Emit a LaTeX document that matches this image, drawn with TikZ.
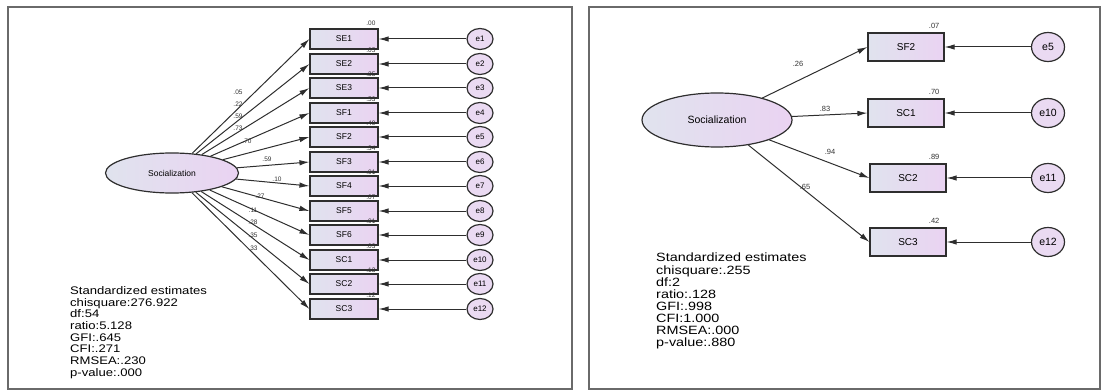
\documentclass[tikz,border=0pt]{standalone}
\usepackage{fontspec}
\setmainfont{Liberation Sans}
\usetikzlibrary{shapes.geometric,arrows.meta}
\definecolor{shadeL}{HTML}{E0E3EE}
\definecolor{shadeR}{HTML}{EAD3F2}
\definecolor{errfill}{HTML}{EADAF2}
\definecolor{edge}{HTML}{2E2E2E}
\definecolor{framegray}{HTML}{6A6A6A}
\newcommand{\statsA}{\fontsize{11}{11.7}\selectfont}
\newcommand{\statsB}{\fontsize{12}{11.6}\selectfont}
\tikzset{
  obs/.style={draw=edge, line width=1.2pt, rectangle, left color=shadeL, right color=shadeR,
    inner sep=0pt, minimum width=68pt, minimum height=20pt, font=\fontsize{8.5}{9}\selectfont},
  obsB/.style={obs, minimum width=76pt, minimum height=28pt, font=\fontsize{10}{11}\selectfont},
  latent/.style={draw=edge, line width=1.2pt, ellipse, left color=shadeL, right color=shadeR, inner sep=0pt},
  err/.style={draw=edge, line width=1.2pt, ellipse, fill=errfill, inner sep=0pt,
    minimum width=26pt, minimum height=21pt, font=\fontsize{8}{9}\selectfont},
  errB/.style={err, minimum width=33pt, minimum height=29pt, font=\fontsize{10.5}{11}\selectfont},
  load/.style={draw=edge, line width=1pt, -{Latex[length=10pt,width=5.5pt]}},
  coef/.style={font=\fontsize{6.5}{7}\selectfont, inner sep=0pt, text=black!80},
  coefB/.style={coef, font=\fontsize{7.5}{8}\selectfont},
  stats/.style={anchor=north west, inner sep=0pt},
}
\begin{document}
\begin{tikzpicture}[x=1pt, y=-1pt]
\useasboundingbox (0,0) rectangle (1107,390);
% panel frames
\draw[framegray, line width=2.2pt] (8,7) rectangle (572,389);
\draw[framegray, line width=2.2pt] (589,7) rectangle (1100,389);

% ---- full model, left panel
\node[latent, minimum width=133pt, minimum height=40pt, font=\fontsize{8.5}{9}\selectfont] (socA) at (172,173) {Socialization};
\node[obs] (SE1) at (344,39) {SE1};   \node[err] (e1) at (480,39) {e1};
\node[obs] (SE2) at (344,64) {SE2};   \node[err] (e2) at (480,64) {e2};
\node[obs] (SE3) at (344,88) {SE3};   \node[err] (e3) at (480,88) {e3};
\node[obs] (SF1) at (344,113) {SF1};  \node[err] (e4) at (480,113) {e4};
\node[obs] (SF2) at (344,137) {SF2};  \node[err] (e5) at (480,137) {e5};
\node[obs] (SF3) at (344,162) {SF3};  \node[err] (e6) at (480,162) {e6};
\node[obs] (SF4) at (344,186) {SF4};  \node[err] (e7) at (480,186) {e7};
\node[obs] (SF5) at (344,211) {SF5};  \node[err] (e8) at (480,211) {e8};
\node[obs] (SF6) at (344,235) {SF6};  \node[err] (e9) at (480,235) {e9};
\node[obs] (SC1) at (344,260) {SC1};  \node[err] (e10) at (480,260) {e10};
\node[obs] (SC2) at (344,284) {SC2};  \node[err] (e11) at (480,284) {e11};
\node[obs] (SC3) at (344,309) {SC3};  \node[err] (e12) at (480,309) {e12};
\foreach \v in {SE1,SE2,SE3,SF1,SF2,SF3,SF4,SF5,SF6,SC1,SC2,SC3}
  \draw[load] (socA) -- (\v.west);
\draw[load] (e1) -- (SE1.east);  \draw[load] (e2) -- (SE2.east);
\draw[load] (e3) -- (SE3.east);  \draw[load] (e4) -- (SF1.east);
\draw[load] (e5) -- (SF2.east);  \draw[load] (e6) -- (SF3.east);
\draw[load] (e7) -- (SF4.east);  \draw[load] (e8) -- (SF5.east);
\draw[load] (e9) -- (SF6.east);  \draw[load] (e10) -- (SC1.east);
\draw[load] (e11) -- (SC2.east); \draw[load] (e12) -- (SC3.east);
% loadings
\node[coef] (cSE1) at (238,92) {.05};
\node[coef] (cSE2) at (238,104) {.22};
\node[coef] (cSE3) at (238,116) {.59};
\node[coef] (cSF1) at (238,128) {.73};
\node[coef] (cSF2) at (247,141) {.70};
\node[coef] (cSF3) at (267,159) {.59};
\node[coef] (cSF4) at (277,179) {.10};
\node[coef] (cSF5) at (260,196) {.27};
\node[coef] (cSF6) at (253,210) {.11};
\node[coef] (cSC1) at (253,222) {.28};
\node[coef] (cSC2) at (253,235) {.35};
\node[coef] (cSC3) at (253,248) {.33};
% squared multiple correlations
\node[coef, anchor=south east] (rSE1) at ([xshift=-3pt,yshift=3pt]SE1.north east) {.00};
\node[coef, anchor=south east] (rSE2) at ([xshift=-3pt,yshift=1pt]SE2.north east) {.05};
\node[coef, anchor=south east] (rSE3) at ([xshift=-3pt,yshift=1pt]SE3.north east) {.35};
\node[coef, anchor=south east] (rSF1) at ([xshift=-3pt,yshift=1pt]SF1.north east) {.53};
\node[coef, anchor=south east] (rSF2) at ([xshift=-3pt,yshift=1pt]SF2.north east) {.49};
\node[coef, anchor=south east] (rSF3) at ([xshift=-3pt,yshift=1pt]SF3.north east) {.34};
\node[coef, anchor=south east] (rSF4) at ([xshift=-3pt,yshift=1pt]SF4.north east) {.01};
\node[coef, anchor=south east] (rSF5) at ([xshift=-3pt,yshift=1pt]SF5.north east) {.07};
\node[coef, anchor=south east] (rSF6) at ([xshift=-3pt,yshift=1pt]SF6.north east) {.01};
\node[coef, anchor=south east] (rSC1) at ([xshift=-3pt,yshift=1pt]SC1.north east) {.03};
\node[coef, anchor=south east] (rSC2) at ([xshift=-3pt,yshift=1pt]SC2.north east) {.13};
\node[coef, anchor=south east] (rSC3) at ([xshift=-3pt,yshift=1pt]SC3.north east) {.12};
\node[stats] (fitA) at (70,286) {\statsA\scalebox{1.19}[1]{\begin{tabular}{@{}l@{}}
Standardized estimates\\ chisquare:276.922\\ df:54\\ ratio:5.128\\ GFI:.645\\ CFI:.271\\ RMSEA:.230\\ p-value:.000
\end{tabular}}};

% ---- reduced model, right panel
\node[latent, minimum width=150pt, minimum height=54pt, font=\fontsize{10.5}{11}\selectfont] (socB) at (717,120) {Socialization};
\node[obsB] (SF2b) at (906,47) {SF2};   \node[errB] (e5b) at (1048,47) {e5};
\node[obsB] (SC1b) at (906,113) {SC1};  \node[errB] (e10b) at (1048,113) {e10};
\node[obsB] (SC2b) at (908,178) {SC2};  \node[errB] (e11b) at (1048,178) {e11};
\node[obsB] (SC3b) at (908,242) {SC3};  \node[errB] (e12b) at (1048,242) {e12};
\draw[load] (socB) -- (SF2b.west);  \draw[load] (e5b) -- (SF2b.east);
\draw[load] (socB) -- (SC1b.west);  \draw[load] (e10b) -- (SC1b.east);
\draw[load] (socB) -- (SC2b.west);  \draw[load] (e11b) -- (SC2b.east);
\draw[load] (socB) -- (SC3b.west);  \draw[load] (e12b) -- (SC3b.east);
\node[coefB] (cSF2b) at (798,64) {.26};
\node[coefB] (cSC1b) at (825,109) {.83};
\node[coefB] (cSC2b) at (830,152) {.94};
\node[coefB] (cSC3b) at (805,187) {.65};
\node[coefB, anchor=south east] (rSF2b) at ([xshift=-5pt,yshift=4pt]SF2b.north east) {.07};
\node[coefB, anchor=south east] (rSC1b) at ([xshift=-5pt,yshift=4pt]SC1b.north east) {.70};
\node[coefB, anchor=south east] (rSC2b) at ([xshift=-7pt,yshift=4pt]SC2b.north east) {.89};
\node[coefB, anchor=south east] (rSC3b) at ([xshift=-7pt,yshift=4pt]SC3b.north east) {.42};
\node[stats] (fitB) at (656,253) {\statsB\scalebox{1.2}[1]{\begin{tabular}{@{}l@{}}
Standardized estimates\\ chisquare:.255\\ df:2\\ ratio:.128\\ GFI:.998\\ CFI:1.000\\ RMSEA:.000\\ p-value:.880
\end{tabular}}};
\end{tikzpicture}
\end{document}
